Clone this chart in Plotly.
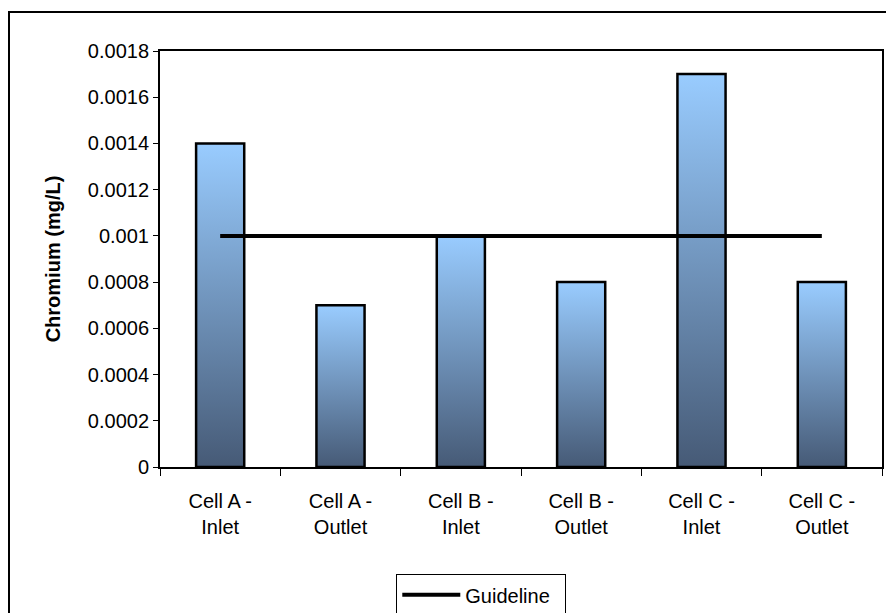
import plotly.graph_objects as go

# Chromium concentrations per sampling point
categories = ["Cell A -<br>Inlet", "Cell A -<br>Outlet", "Cell B -<br>Inlet",
              "Cell B -<br>Outlet", "Cell C -<br>Inlet", "Cell C -<br>Outlet"]
chromium = [0.0014, 0.0007, 0.001, 0.0008, 0.0017, 0.0008]
guideline = [0.001, 0.001, 0.001, 0.001, 0.001, 0.001]
y_tick_vals = [0, 0.0002, 0.0004, 0.0006, 0.0008, 0.001, 0.0012, 0.0014, 0.0016, 0.0018]
y_tick_text = ["0", "0.0002", "0.0004", "0.0006", "0.0008", "0.001",
               "0.0012", "0.0014", "0.0016", "0.0018"]

BAR_W = 0.4
TOP = "#99CCFF"
BOTTOM = "#465A76"
FONT = "Liberation Sans, Arial, sans-serif"

fig = go.Figure()

# Vertical gradient fill underneath each bar (base linear x axis)
for i, v in enumerate(chromium):
    fig.add_trace(go.Scatter(
        x=[i - BAR_W / 2, i - BAR_W / 2, i + BAR_W / 2, i + BAR_W / 2],
        y=[0, v, v, 0],
        mode="lines", fill="toself", line=dict(width=0),
        fillgradient=dict(type="vertical", colorscale=[[0, BOTTOM], [1, TOP]]),
        showlegend=False, hoverinfo="skip", xaxis="x", yaxis="y",
    ))

# Bar outlines on the categorical axis
fig.add_trace(go.Bar(
    x=categories, y=chromium, width=BAR_W,
    marker=dict(color="rgba(0,0,0,0)", line=dict(color="black", width=2.5)),
    showlegend=False, xaxis="x2", yaxis="y",
))

fig.add_trace(go.Scatter(
    x=categories, y=guideline, name="Guideline", mode="lines",
    line=dict(color="black", width=4), xaxis="x2", yaxis="y",
))

fig.update_layout(
    width=886, height=613,
    margin=dict(l=160, r=4, t=51, b=146, autoexpand=False),
    paper_bgcolor="white", plot_bgcolor="white",
    font=dict(family=FONT, size=20, color="black"),
    xaxis=dict(type="linear", range=[-0.5, 5.5], showgrid=False, zeroline=False,
               showticklabels=False, ticks="", fixedrange=True, automargin=False),
    xaxis2=dict(type="category", overlaying="x", side="bottom", anchor="y",
                range=[-0.5, 5.5], tickson="boundaries", ticks="outside",
                ticklen=7, tickwidth=1, tickcolor="black", ticklabelstandoff=15,
                showline=True, linecolor="black", linewidth=2, mirror=True,
                showgrid=False, zeroline=False, tickfont=dict(size=20),
                automargin=False),
    yaxis=dict(range=[0, 0.0018], tickvals=y_tick_vals, ticktext=y_tick_text,
               ticks="outside", ticklen=5, tickcolor="black",
               showline=True, linecolor="black", linewidth=2, mirror=True,
               showgrid=False, zeroline=False, automargin=False,
               title=dict(text="<b>Chromium (mg/L)</b>", font=dict(size=20), standoff=22)),
    legend=dict(orientation="h", x=0.445, xanchor="center", y=-0.258, yanchor="top",
                bordercolor="black", borderwidth=1, font=dict(size=20),
                entrywidth=95, itemwidth=58),
    bargap=0.6,
)

# Outer chart frame
fig.add_shape(type="rect", xref="paper", yref="paper",
              x0=-151 / 722, x1=1.2, y0=-0.6, y1=1 + 39 / 416,
              line=dict(color="black", width=2), fillcolor="rgba(0,0,0,0)", layer="below")

fig.write_html("out.html")
